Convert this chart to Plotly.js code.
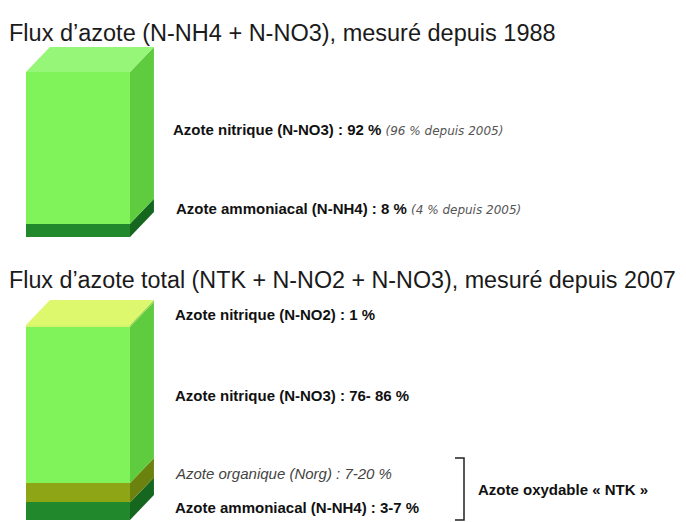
<!DOCTYPE html>
<html>
<head>
<meta charset="utf-8">
<script src="https://cdn.plot.ly/plotly-3.0.1.min.js"></script>
<style>html,body{margin:0;padding:0;background:#fff;}#chart{width:686px;height:522px;}</style>
</head>
<body>
<div id="chart"></div>
<script>
// ---- Data ----
const title1 = "Flux d’azote (N-NH4 + N-NO3), mesuré depuis 1988";
const title2 = "Flux d’azote total (NTK + N-NO2 + N-NO3), mesuré depuis 2007";

const bar1Labels = ["Azote ammoniacal (N-NH4)", "Azote nitrique (N-NO3)"];
const bar1Values = [8, 92];
const bar1Since2005 = ["4 % depuis 2005", "96 % depuis 2005"];

const bar2Labels = ["Azote ammoniacal (N-NH4)", "Azote organique (Norg)", "Azote nitrique (N-NO3)", "Azote nitrique (N-NO2)"];
const bar2Values = [9, 10, 80, 1];
const bar2Ranges = ["3-7 %", "7-20 %", "76- 86 %", "1 %"];

const groupLabel = "Azote oxydable « NTK »";

// ---- Styles ----
const W = 686, H = 522;
const front1 = ["#22882c", "#80f25a"];
const side1  = ["#15661e", "#5fcb3e"];
const top1   = "#95f677";
const front2 = ["#22882c", "#8ea516", "#80f25a", "#d6f46a"];
const side2  = ["#15661e", "#6c820e", "#5fcb3e", "#8fd64a"];
const top2   = "#def86e";
const DX = 0.23;

function buildBar(values, fronts, sides, topColor, xa, ya, dy) {
  const traces = [];
  let base = 0;
  values.forEach((v, i) => {
    const b = base, t = base + v;
    traces.push({type: "bar", x: [0.5], y: [v], base: [b], width: [1],
      marker: {color: fronts[i], line: {width: 0}}, xaxis: xa, yaxis: ya, hoverinfo: "skip", showlegend: false});
    traces.push({type: "scatter", mode: "lines", fill: "toself", fillcolor: sides[i],
      x: [1, 1 + DX, 1 + DX, 1, 1], y: [b, b + dy, t + dy, t, b],
      line: {width: 0, color: sides[i]}, xaxis: xa, yaxis: ya, hoverinfo: "skip", showlegend: false});
    base = t;
  });
  traces.push({type: "scatter", mode: "lines", fill: "toself", fillcolor: topColor,
    x: [0, DX, 1 + DX, 1, 0], y: [base, base + dy, base + dy, base, base],
    line: {width: 0, color: topColor}, xaxis: xa, yaxis: ya, hoverinfo: "skip", showlegend: false});
  return traces;
}

// bar 1: front 72..237 px (1.65 px per %), depth 25 px
const dy1 = 25 / 1.65;
// bar 2: front 325..520 px (1.95 px per %), depth 25 px
const dy2 = 25 / 1.95;

const data = [].concat(
  buildBar(bar1Values, front1, side1, top1, "x", "y", dy1),
  buildBar(bar2Values, front2, side2, top2, "x2", "y2", dy2)
);

const px = v => v / W, py = v => 1 - v / H;
const xr = [-26 / 104, (W - 26) / 104];
const noAxis = {visible: false, showgrid: false, zeroline: false, fixedrange: true};

const fam = "Liberation Sans";
const note = s => "<i><span style='font-family:DejaVu Sans;font-size:12px;color:#555'>(" + s + ")</span></i>";
const annotations = [
  {text: title1, x: px(7), y: py(33), font: {size: 23.5, color: "#1a1a1a", family: fam}},
  {text: title2, x: px(7), y: py(280), font: {size: 23.3, color: "#1a1a1a", family: fam}},
  {text: "<b>" + bar1Labels[1] + " : " + bar1Values[1] + " %</b> " + note(bar1Since2005[1]), x: px(171), y: py(129)},
  {text: "<b>" + bar1Labels[0] + " : " + bar1Values[0] + " %</b> " + note(bar1Since2005[0]), x: px(174), y: py(208)},
  {text: "<b>" + bar2Labels[3] + " : " + bar2Ranges[3] + "</b>", x: px(173), y: py(314)},
  {text: "<b>" + bar2Labels[2] + " : " + bar2Ranges[2] + "</b>", x: px(173), y: py(395)},
  {text: "<i>" + bar2Labels[1] + " : " + bar2Ranges[1] + "</i>", x: px(173), y: py(473), font: {size: 15, color: "#444", family: fam}},
  {text: "<b>" + bar2Labels[0] + " : " + bar2Ranges[0] + "</b>", x: px(173), y: py(507)},
  {text: "<b>" + groupLabel + "</b>", x: px(476), y: py(489)}
].map(a => Object.assign({xref: "paper", yref: "paper", xanchor: "left", yanchor: "middle", showarrow: false,
  font: {size: 15, color: "#111", family: fam}}, a));

const layout = {
  width: W, height: H,
  margin: {l: 0, r: 0, t: 0, b: 0},
  paper_bgcolor: "#fff", plot_bgcolor: "rgba(0,0,0,0)",
  barmode: "overlay", bargap: 0,
  showlegend: false,
  xaxis:  Object.assign({range: xr, domain: [0, 1], anchor: "y"}, noAxis),
  yaxis:  Object.assign({range: [0, 100 + dy1], domain: [1 - 237 / H, 1 - 47 / H], anchor: "x"}, noAxis),
  xaxis2: Object.assign({range: xr, domain: [0, 1], anchor: "y2"}, noAxis),
  yaxis2: Object.assign({range: [0, (520 - 300) / 1.95], domain: [1 - 520 / H, 1 - 300 / H], anchor: "x2"}, noAxis),
  annotations: annotations,
  shapes: [
    {type: "path", xref: "paper", yref: "paper",
     path: `M ${px(455)} ${py(458)} L ${px(464)} ${py(458)} L ${px(464)} ${py(520)} L ${px(455)} ${py(520)}`,
     line: {color: "#222", width: 1.5}}
  ]
};

Plotly.newPlot("chart", data, layout, {staticPlot: true, displayModeBar: false});
</script>
</body>
</html>
